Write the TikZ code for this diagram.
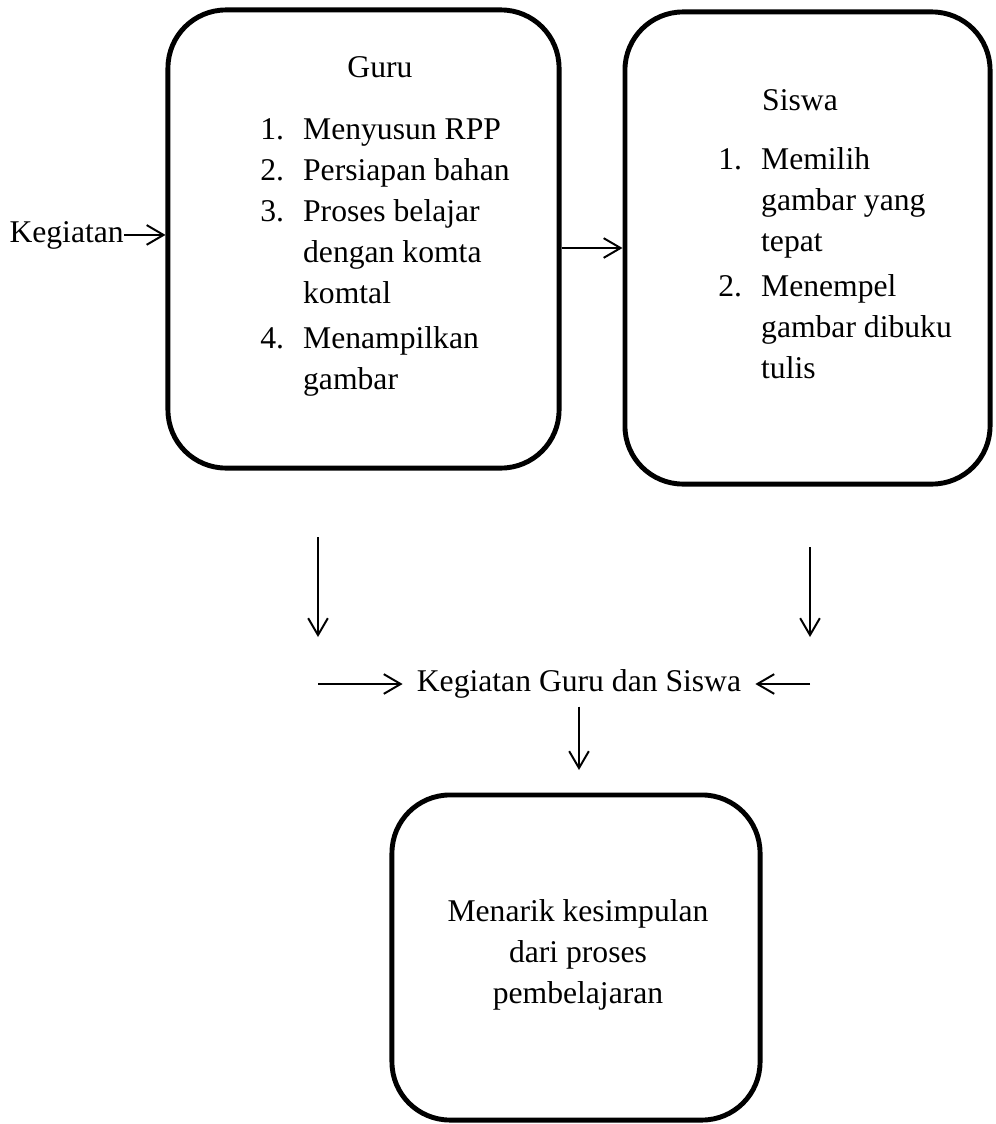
\documentclass[tikz,border=0pt]{standalone}
\usepackage{fontspec}
\setmainfont{Liberation Serif}
\usetikzlibrary{arrows.meta}

\newlength{\numw}\setlength{\numw}{30.5pt}

\begin{document}
\begin{tikzpicture}[x=0.025cm,y=-0.025cm,
   every node/.style={font=\fontsize{22.5}{29.2}\selectfont,inner sep=0pt},
   bigbox/.style={draw,line width=3.5pt,rounded corners=1.45cm},
   conn/.style={line width=1.4pt,-{Straight Barb[length=12pt,width=14pt]}}]
\useasboundingbox (0,0) rectangle (995,1124);

\node[bigbox,minimum width=9.775cm,minimum height=11.45cm] (guru) at (363.5,239) {};
\node[bigbox,minimum width=9.125cm,minimum height=11.8cm] (siswa) at (807.5,248) {};
\node[bigbox,minimum width=9.2cm,minimum height=8.125cm] (hasil) at (576,957.5) {};

\node (gurut) at (380,67) {Guru};
\node[anchor=north west,align=left] (gurul) at (260,118) {%
  \makebox[\numw][l]{1.}Menyusun RPP\\
  \makebox[\numw][l]{2.}Persiapan bahan\\
  \makebox[\numw][l]{3.}Proses belajar\\
  \hspace*{\numw}dengan komta\\
  \hspace*{\numw}komtal\\[3pt]
  \makebox[\numw][l]{4.}Menampilkan\\
  \hspace*{\numw}gambar};

\node (siswat) at (800,100) {Siswa};
\node[anchor=north west,align=left] (siswal) at (718,147) {%
  \makebox[\numw][l]{1.}Memilih\\
  \hspace*{\numw}gambar yang\\
  \hspace*{\numw}tepat\\[3pt]
  \makebox[\numw][l]{2.}Menempel\\
  \hspace*{\numw}gambar dibuku\\
  \hspace*{\numw}tulis};

\node[align=center] (hasilt) at (578,955) {Menarik kesimpulan\\dari proses\\pembelajaran};

\node[anchor=base east] (kegiatan) at (124,242) {Kegiatan};
\node[inner xsep=0.35cm,inner ysep=0.2cm] (kgs) at (579,684) {Kegiatan Guru dan Siswa};

\coordinate (gd1) at (318,537);
\coordinate (gd2) at (318,637);
\coordinate (sd1) at (810,547);
\coordinate (sd2) at (810,637);
\coordinate (gk) at (318,684);
\coordinate (sk) at (810,684);
\coordinate (hk) at (579,770);

\draw[conn] (kegiatan) -- (kegiatan -| guru.west);
\draw[conn] (guru.east |- siswa.west) -- (siswa.west);
\draw[conn] (gd1) -- (gd2);
\draw[conn] (sd1) -- (sd2);
\draw[conn] (gk) -- (kgs.west);
\draw[conn] (sk) -- (kgs.east);
\draw[conn] (kgs.south) -- (hk);

\end{tikzpicture}
\end{document}
